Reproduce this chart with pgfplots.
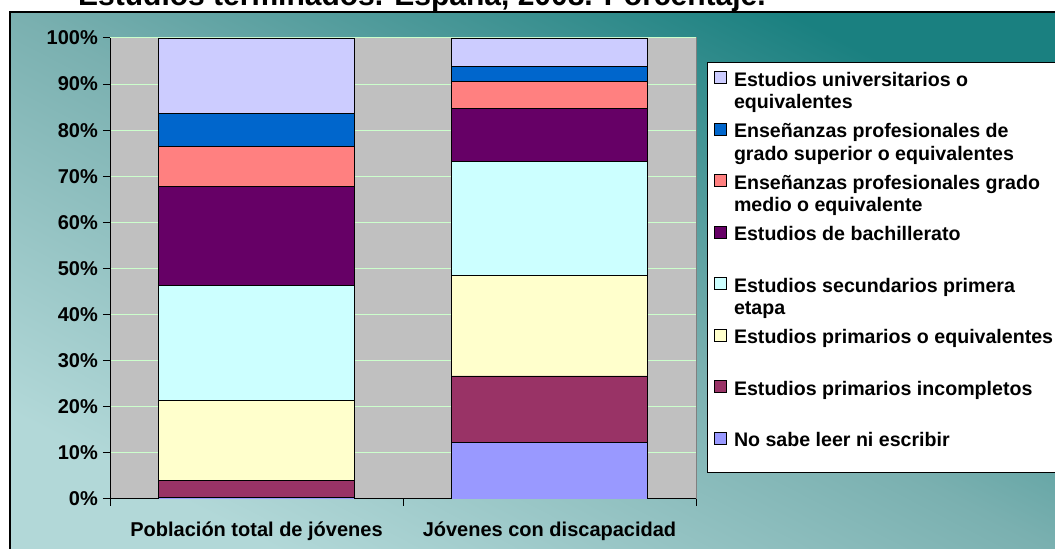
\documentclass[border=0pt]{standalone}
\usepackage{pgfplots}
\pgfplotsset{compat=1.18}
\usepackage{fontspec}
\setmainfont{Liberation Sans}
\definecolor{cUni}{HTML}{CCCCFF}
\definecolor{cSup}{HTML}{0066CC}
\definecolor{cMed}{HTML}{FF8080}
\definecolor{cBach}{HTML}{660066}
\definecolor{cSec}{HTML}{CCFFFF}
\definecolor{cPri}{HTML}{FFFFCC}
\definecolor{cInc}{HTML}{993366}
\definecolor{cNo}{HTML}{9999FF}
\definecolor{bgLight}{HTML}{B2D8D8}
\definecolor{bgMid}{HTML}{7AB0B0}
\definecolor{bgDark}{HTML}{1A8080}
\definecolor{plotbg}{HTML}{C0C0C0}
\definecolor{plotedge}{HTML}{808080}
\definecolor{gridc}{HTML}{CCFFCC}
\pgfdeclareverticalshading{bgshade}{100bp}{color(0bp)=(bgLight); color(25bp)=(bgLight); color(50bp)=(bgMid); color(75bp)=(bgDark); color(100bp)=(bgDark)}
\newcommand{\legtxt}[2]{\parbox[t]{330bp}{#1}\rule[-#2]{0pt}{\dimexpr 15bp+#2\relax}}
\begin{document}
\begin{tikzpicture}[x=1bp,y=1bp]
\useasboundingbox (0,0) rectangle (1055,549);
\fill[white] (0,0) rectangle (1055,549);
\shade[shading=bgshade, shading angle=-27.2] (10,-2) rectangle (1057,537);
\draw[black, line width=1.5bp] (10,-5) -- (10,537) -- (1060,537);
\node[anchor=base west, inner sep=0pt, font=\fontsize{30bp}{31bp}\selectfont\bfseries] at (78,543.3) {Estudios terminados. España, 2008. Porcentaje.};
\coordinate (O) at (110,50);
\begin{axis}[
  at={(O)}, anchor=south west,
  scale only axis, width=586bp, height=461bp,
  ybar stacked, bar width=196bp,
  xmin=-0.5, xmax=1.5, ymin=0, ymax=100,
  enlargelimits=false,
  axis lines*=left,
  axis line style={black, line width=1bp, -},
  axis background/.style={fill=plotbg, draw=plotedge, line width=1bp},
  xtick={-0.5,0.5,1.5},
  xticklabels={},
  extra x ticks={0,1},
  extra x tick labels={Población total de jóvenes, Jóvenes con discapacidad},
  extra x tick style={major tick length=0pt, xticklabel style={anchor=base, inner sep=0pt, yshift=-38bp}},
  ytick={0,10,...,100},
  yticklabels={0\%,10\%,20\%,30\%,40\%,50\%,60\%,70\%,80\%,90\%,100\%},
  tick align=outside,
  major tick length=7bp,
  tick style={black, line width=1bp},
  ymajorgrids,
  major grid style={gridc, line width=1bp},
  tick label style={font=\fontsize{20bp}{22bp}\selectfont\bfseries},
  yticklabel style={inner sep=0pt, xshift=-5bp},
  every axis plot/.append style={draw=black, line width=0.8bp},
  legend image code/.code={\draw[#1, draw=black, line width=0.6bp] (0bp,2.7bp) rectangle (12bp,14.7bp);},
  reverse legend,
  legend style={at={(1.01877,0.9479)}, anchor=north west, draw=black, line width=0.8bp, fill=white,
    inner xsep=7bp, inner ysep=8.7bp, row sep=0pt, column sep=7bp,
    font=\fontsize{19.6bp}{22.7bp}\selectfont\bfseries,
    nodes={inner sep=0pt, text depth=, text height=, anchor=base west}},
  legend cell align=left,
]
\addplot[fill=cNo] coordinates {(0,0.3) (1,12.2)};
\addlegendentry{\legtxt{No sabe leer ni escribir}{17.3bp}}
\addplot[fill=cInc] coordinates {(0,3.8) (1,14.5)};
\addlegendentry{\legtxt{Estudios primarios incompletos}{36.5bp}}
\addplot[fill=cPri] coordinates {(0,17.2) (1,21.7)};
\addlegendentry{\legtxt{Estudios primarios o equivalentes}{36.5bp}}
\addplot[fill=cSec] coordinates {(0,25.0) (1,24.9)};
\addlegendentry{\legtxt{Estudios secundarios primera\\etapa}{36.5bp}}
\addplot[fill=cBach] coordinates {(0,21.4) (1,11.4)};
\addlegendentry{\legtxt{Estudios de bachillerato}{36.5bp}}
\addplot[fill=cMed] coordinates {(0,8.7) (1,5.9)};
\addlegendentry{\legtxt{Enseñanzas profesionales grado\\medio o equivalente}{36.5bp}}
\addplot[fill=cSup] coordinates {(0,7.3) (1,3.3)};
\addlegendentry{\legtxt{Enseñanzas profesionales de\\grado superior o equivalentes}{36.5bp}}
\addplot[fill=cUni] coordinates {(0,16.3) (1,6.1)};
\addlegendentry{\legtxt{Estudios universitarios o\\equivalentes}{36.5bp}}
\end{axis}
\end{tikzpicture}
\end{document}
